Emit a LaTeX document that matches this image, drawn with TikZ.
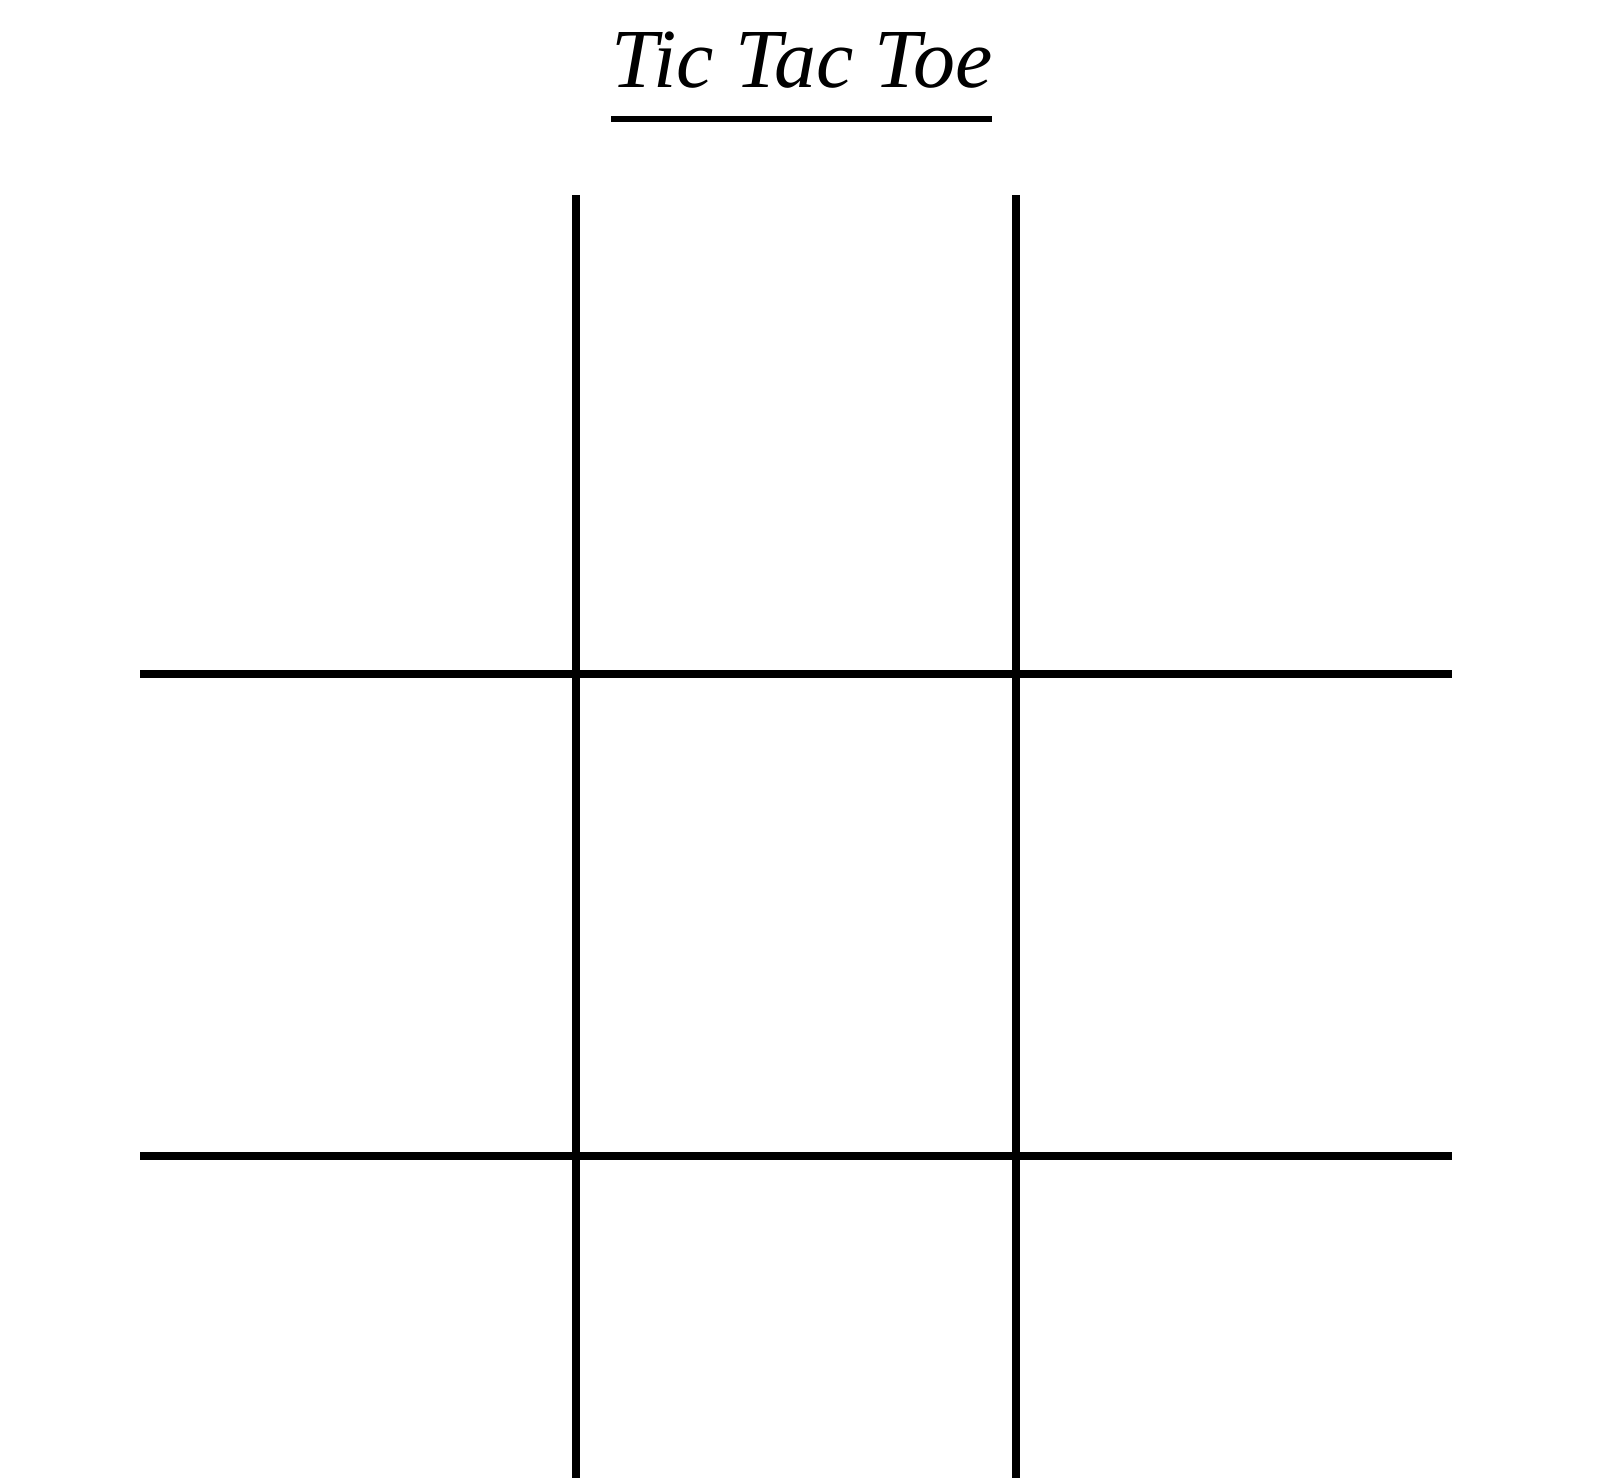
\documentclass[tikz,border=0pt]{standalone}
\usepackage{fontspec}
\setmainfont{Liberation Serif}
\begin{document}
\begin{tikzpicture}[x=1pt,y=-1pt,
  gridline/.style={line width=8pt,black},
  ruleline/.style={line width=6pt,black}]
\useasboundingbox[fill=white] (0,0) rectangle (1608,1478);
\node[anchor=base,inner sep=0pt,font=\fontsize{84}{96}\selectfont\itshape] (title) at (802,87) {Tic Tac Toe};
\draw[ruleline] (611,119) -- (992,119);
% vertical lines
\draw[gridline] (576,195) -- (576,1478);
\draw[gridline] (1016,195) -- (1016,1478);
% horizontal lines
\draw[gridline] (140,674) -- (1452,674);
\draw[gridline] (140,1156) -- (1452,1156);
\end{tikzpicture}
\end{document}
